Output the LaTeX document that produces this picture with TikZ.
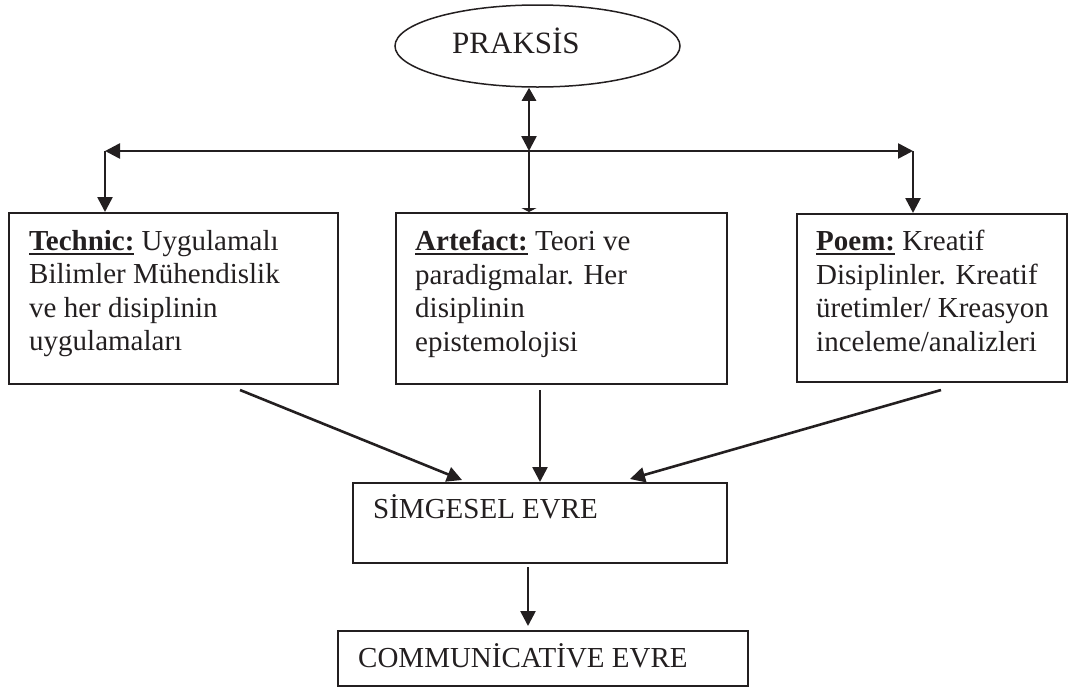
\documentclass[tikz,border=0pt]{standalone}
\usepackage{fontspec}
\setmainfont{Liberation Serif}
\usetikzlibrary{shapes.geometric,arrows.meta,calc}
\definecolor{ink}{HTML}{231F20}
\newcommand{\myul}[1]{\setbox0=\hbox{\bfseries #1}\rlap{\rule[-4.5pt]{\wd0}{1.8pt}}\box0\relax}
\begin{document}
\begin{tikzpicture}[x=1pt,y=-1pt,
  every node/.style={font=\fontsize{29}{33.5}\selectfont, text=ink},
  box/.style={draw=ink, line width=2pt, rectangle, inner sep=0pt, anchor=north west},
  boxtext/.style={anchor=north west, inner sep=0pt, align=left},
  conn/.style={draw=ink, line width=2.6pt, -{Triangle[length=15pt,width=15pt]}},
]
\useasboundingbox (0,0) rectangle (1068,686);

% top ellipse
\node[draw=ink, ellipse, line width=1.5pt, minimum width=285pt, minimum height=82pt, inner sep=0pt] (praksis) at (537.5,46) {};
\node[anchor=base west, inner sep=0pt, font=\fontsize{31}{36}\selectfont] (praksislabel) at (452,53) {PRAKSİS};

% boxes
\node[box, minimum width=329pt, minimum height=171pt] (technic) at (8,212) {};
\node[box, minimum width=331pt, minimum height=171pt] (artefact) at (395,212) {};
\node[box, minimum width=270pt, minimum height=168pt] (poem) at (796,213) {};
\node[box, minimum width=374pt, minimum height=80pt] (simgesel) at (352,482) {};
\node[box, minimum width=410pt, minimum height=55pt] (comm) at (337,630) {};

% box texts
\node[boxtext] (technictext) at (29,230) {\myul{Technic:} Uygulamalı\\Bilimler Mühendislik\\ve her disiplinin\\uygulamaları};
\node[boxtext] (artefacttext) at (415,230) {\myul{Artefact:} Teori ve\\paradigmalar. Her\\disiplinin\\epistemolojisi};
\node[boxtext] (poemtext) at (816,230) {\myul{Poem:} Kreatif\\Disiplinler. Kreatif\\üretimler/ Kreasyon\\inceleme/analizleri};
\node[anchor=base west, inner sep=0pt] (simgeseltext) at (373,518) {SİMGESEL EVRE};
\node[anchor=base west, inner sep=0pt] (commtext) at (358,667) {COMMUNİCATİVE EVRE};

% top connectors
\coordinate (junction) at (529,151);
\coordinate (lcorner) at (105,151);
\coordinate (rcorner) at (913,151);
\draw[conn, {Triangle[length=13pt,width=14pt]}-{Triangle[length=15pt,width=15pt]}] (praksis.south -| junction) -- (junction);
\draw[conn] (junction) -- (lcorner);
\draw[conn] (lcorner) -- (lcorner |- technic.north);
\draw[conn] (junction) -- (rcorner);
\draw[conn] (rcorner) -- (rcorner |- poem.north);
\draw[conn, -{Triangle[length=4pt,width=15pt]}] (junction) -- (junction |- artefact.north);

% lower connectors
\draw[conn] ($(technic.south east)+(-99,5)$) -- ($(simgesel.north west)+(110,-2)$);
\draw[conn] ($(artefact.south -| simgesel.north)+(0,5)$) -- (simgesel.north);
\draw[conn] ($(poem.south west)+(145,7)$) -- ($(simgesel.north west)+(278,-3)$);
\draw[conn] ($(simgesel.south west)+(176,3)$) -- ($(comm.north west)+(191,-4)$);
\end{tikzpicture}
\end{document}
